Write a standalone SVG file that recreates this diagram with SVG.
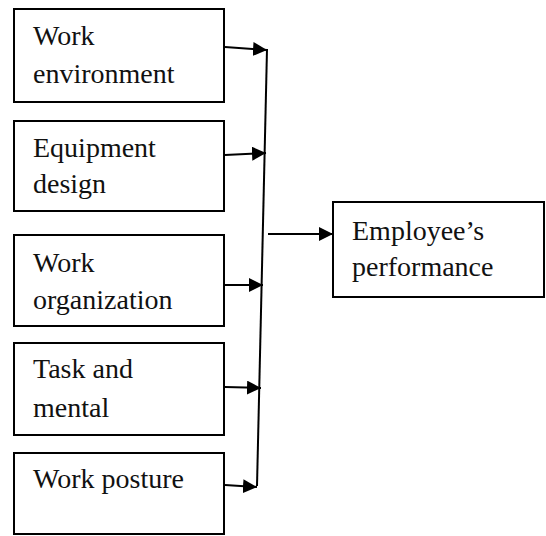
<svg xmlns="http://www.w3.org/2000/svg" width="546" height="536" viewBox="0 0 546 536">
  <style>
    .box { fill: #fff; stroke: #000; stroke-width: 2; }
    .lbl { font-family: "Liberation Serif", "Times New Roman", serif; font-size: 28px; fill: #111; }
    .wire { fill: none; stroke: #000; stroke-width: 2; }
  </style>
  <defs>
    <marker id="arrow" viewBox="0 0 10 10" refX="10" refY="5" markerWidth="14" markerHeight="14" markerUnits="userSpaceOnUse" orient="auto">
      <path d="M0,0 L10,5 L0,10 z" fill="#000"/>
    </marker>
  </defs>
  <rect width="546" height="536" fill="#fff"/>

  <g id="work-environment">
    <rect class="box" x="14" y="9" width="210" height="93"/>
    <text class="lbl" x="33" y="45">Work</text>
    <text class="lbl" x="33" y="83">environment</text>
  </g>
  <g id="equipment-design">
    <rect class="box" x="14" y="121" width="210" height="90"/>
    <text class="lbl" x="33" y="157">Equipment</text>
    <text class="lbl" x="33" y="193">design</text>
  </g>
  <g id="work-organization">
    <rect class="box" x="14" y="235" width="210" height="91"/>
    <text class="lbl" x="33" y="272">Work</text>
    <text class="lbl" x="33" y="309">organization</text>
  </g>
  <g id="task-and-mental">
    <rect class="box" x="14" y="343" width="210" height="92"/>
    <text class="lbl" x="33" y="378">Task and</text>
    <text class="lbl" x="33" y="417">mental</text>
  </g>
  <g id="work-posture">
    <rect class="box" x="14" y="453" width="210" height="81"/>
    <text class="lbl" x="33" y="488">Work posture</text>
  </g>
  <g id="employee-performance">
    <rect class="box" x="333" y="202" width="211" height="95"/>
    <text class="lbl" x="352" y="240">Employee’s</text>
    <text class="lbl" x="352" y="276">performance</text>
  </g>

  <g id="connectors">
    <line class="wire" x1="267" y1="49" x2="257" y2="486"/>
    <line class="wire" x1="225" y1="47" x2="267" y2="50" marker-end="url(#arrow)"/>
    <line class="wire" x1="225" y1="155" x2="266" y2="153" marker-end="url(#arrow)"/>
    <line class="wire" x1="225" y1="285" x2="263" y2="285" marker-end="url(#arrow)"/>
    <line class="wire" x1="225" y1="387" x2="261" y2="388" marker-end="url(#arrow)"/>
    <line class="wire" x1="225" y1="485" x2="257" y2="487" marker-end="url(#arrow)"/>
    <line class="wire" x1="268" y1="234" x2="333" y2="234" marker-end="url(#arrow)"/>
  </g>
</svg>
